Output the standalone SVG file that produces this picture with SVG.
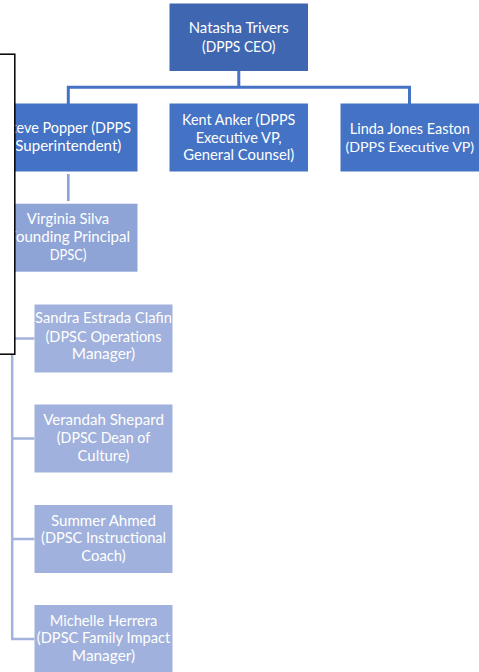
<svg xmlns="http://www.w3.org/2000/svg" width="479" height="672" viewBox="0 0 479 672">
<style>
.t{font-family:Lato,"Liberation Sans",sans-serif;font-size:16px;fill:#fff;text-anchor:middle}
.s{font-size:15px}
.s2{font-size:14px}
.c1{fill:none;stroke:#4472C4;stroke-width:3}
.c2{fill:none;stroke:#8FA5D6;stroke-width:2.7}
.c3{fill:none;stroke:#A3B3DD;stroke-width:2.5}
.n0{fill:#3F67B1}
.n1{fill:#4472C4}
.n2{fill:#8EA4D6}
.n3{fill:#9FB1DC}
</style>
<rect width="479" height="672" fill="#fff"/>
<g id="connectors">
<path class="c1" d="M238.8 71V87.2M68.3 104V87.2H409.5V104"/>
<path class="c2" d="M68.3 174V201"/>
<path class="c3" d="M12.2 272V639H34.5M12.2 338.5H34.5M12.2 438.5H34.5M12.2 539H34.5"/>
</g>
<g id="natasha"><rect class="n0" x="169.5" y="3.5" width="138.5" height="67.5"/>
<text class="t" x="238.7" y="33.3" textLength="100" lengthAdjust="spacingAndGlyphs">Natasha Trivers</text>
<text class="t" x="238.7" y="51.7" textLength="73.4" lengthAdjust="spacingAndGlyphs">(DPPS CEO)</text></g>
<g id="steve"><rect class="n1" x="-1.5" y="103.5" width="139" height="68"/>
<text class="t" x="67.5" y="133.3" textLength="127" lengthAdjust="spacingAndGlyphs">Steve Popper (DPPS</text>
<text class="t" x="68.3" y="150.7" textLength="106" lengthAdjust="spacingAndGlyphs">Superintendent)</text></g>
<g id="kent"><rect class="n1" x="169.5" y="103.5" width="138.5" height="68"/>
<text class="t" x="238.7" y="125" textLength="113.3" lengthAdjust="spacingAndGlyphs">Kent Anker (DPPS</text>
<text class="t" x="238.7" y="142.7" textLength="86" lengthAdjust="spacingAndGlyphs">Executive VP,</text>
<text class="t" x="238.7" y="160.3" textLength="111" lengthAdjust="spacingAndGlyphs">General Counsel)</text></g>
<g id="linda"><rect class="n1" x="340.5" y="103.5" width="138.5" height="68"/>
<text class="t s" x="409.8" y="134.3" textLength="120" lengthAdjust="spacingAndGlyphs">Linda Jones Easton</text>
<text class="t s2" x="409.8" y="151.7" textLength="128.6" lengthAdjust="spacingAndGlyphs">(DPPS Executive VP)</text></g>
<g id="virginia"><rect class="n2" x="-1.5" y="203.7" width="139" height="68"/>
<text class="t" x="68" y="224.3" textLength="82.3" lengthAdjust="spacingAndGlyphs">Virginia Silva</text>
<text class="t" x="67" y="242.3" textLength="126" lengthAdjust="spacingAndGlyphs">(Founding Principal</text>
<text class="t" x="68" y="260" textLength="36.7" lengthAdjust="spacingAndGlyphs">DPSC)</text></g>
<g id="sandra"><rect class="n3" x="34.5" y="304.5" width="138" height="68"/>
<text class="t" x="103.5" y="323.3" textLength="137" lengthAdjust="spacingAndGlyphs">Sandra Estrada Clafin</text>
<text class="t" x="103.5" y="341.7" textLength="116" lengthAdjust="spacingAndGlyphs">(DPSC Operations</text>
<text class="t" x="103.5" y="359.3" textLength="63.3" lengthAdjust="spacingAndGlyphs">Manager)</text></g>
<g id="verandah"><rect class="n3" x="34.5" y="404.5" width="138" height="68"/>
<text class="t" x="103.5" y="425" textLength="120.7" lengthAdjust="spacingAndGlyphs">Verandah Shepard</text>
<text class="t" x="103.5" y="442.7" textLength="93.3" lengthAdjust="spacingAndGlyphs">(DPSC Dean of</text>
<text class="t" x="103.5" y="460.7" textLength="52" lengthAdjust="spacingAndGlyphs">Culture)</text></g>
<g id="summer"><rect class="n3" x="34.5" y="505" width="138" height="68"/>
<text class="t" x="103.5" y="525.7" textLength="105" lengthAdjust="spacingAndGlyphs">Summer Ahmed</text>
<text class="t" x="103.5" y="543.3" textLength="125" lengthAdjust="spacingAndGlyphs">(DPSC Instructional</text>
<text class="t" x="103.5" y="561" textLength="44.3" lengthAdjust="spacingAndGlyphs">Coach)</text></g>
<g id="michelle"><rect class="n3" x="34.5" y="605" width="138" height="67"/>
<text class="t" x="103.5" y="625.7" textLength="107.7" lengthAdjust="spacingAndGlyphs">Michelle Herrera</text>
<text class="t" x="103.5" y="643.3" textLength="133.3" lengthAdjust="spacingAndGlyphs">(DPSC Family Impact</text>
<text class="t" x="103.5" y="661" textLength="63.3" lengthAdjust="spacingAndGlyphs">Manager)</text></g>
<rect id="overlay" x="-5" y="54.2" width="19.8" height="300" fill="#fff" stroke="#000" stroke-width="1.5"/>
</svg>
